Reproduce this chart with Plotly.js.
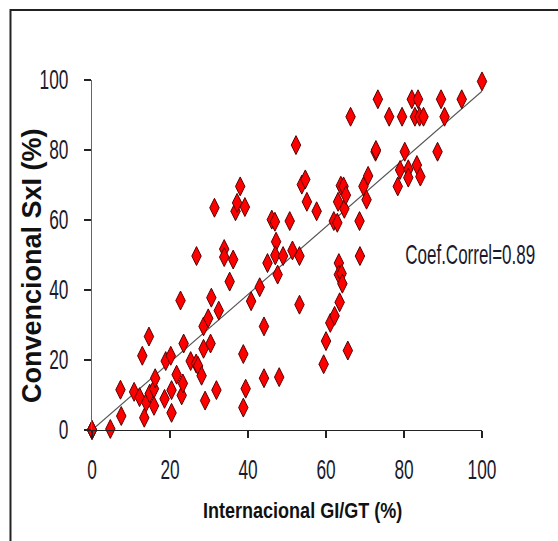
<!DOCTYPE html>
<html>
<head>
<meta charset="utf-8">
<script src="https://cdn.plot.ly/plotly-3.0.1.min.js"></script>
<style>
  html, body { margin: 0; padding: 0; background: #fff; }
  #chart { width: 558px; height: 541px; }
</style>
</head>
<body>
<div id="chart"></div>
<script>
// Internacional GI/GT (%) vs Convencional SxI (%)
const xInternacional = [
  0, 0, 4.7, 7.5, 7.3, 10.8, 12.2, 12.9, 13.4, 13.9, 14.6, 14.8, 15.9, 15.9, 16.2,
  18.6, 18.9, 20.2, 20.4, 20.4, 21.7, 22.7, 23.0, 23.3, 23.5, 25.3, 26.8, 26.7, 27.2,
  28.1, 28.6, 29.0, 28.6, 29.8, 30.4, 30.6, 31.4, 31.9, 32.5, 33.9, 33.9, 35.3, 36.2,
  36.8, 37.2, 38.0, 38.8, 38.8, 39.4, 39.2, 40.8, 43.0, 44.1, 44.1, 45.0, 46.1, 46.9,
  47.2, 47.0, 47.6, 48.0, 49.0, 50.7, 51.4, 52.3, 53.2, 53.2, 53.8, 54.7, 55.1, 57.6,
  59.4, 60.0, 61.1, 62.0, 62.2, 62.9, 63.1, 63.3, 63.3, 63.5, 63.8, 64.0, 64.2, 64.5,
  64.7, 65.1, 65.6, 66.3, 68.6, 68.7, 69.6, 70.4, 70.8, 72.7, 72.8, 73.3, 76.2, 78.4,
  79.0, 79.5, 80.2, 81.1, 81.1, 82.0, 82.8, 83.3, 83.6, 84.0, 84.2, 85.0, 88.6, 89.5,
  90.4, 94.8, 100
];
const yConvencional = [
  0, 0, 0.3, 4.0, 11.5, 10.9, 9.4, 21.2, 3.5, 7.9, 26.7, 10.4, 6.9, 11.8, 14.8,
  8.9, 19.7, 21.2, 4.9, 11.4, 15.8, 37.0, 9.9, 13.3, 24.7, 19.7, 49.7, 19.0, 18.3,
  15.5, 23.2, 8.4, 29.6, 31.9, 24.7, 37.8, 63.5, 11.4, 34.1, 51.7, 49.4, 42.4, 48.7,
  62.5, 64.9, 69.6, 6.4, 21.7, 11.8, 63.7, 36.8, 40.8, 29.6, 14.8, 47.7, 60.1, 59.5,
  53.8, 49.9, 44.4, 15.1, 49.7, 59.7, 51.3, 81.4, 49.7, 35.8, 70.1, 71.6, 65.2, 62.5,
  18.8, 25.4, 30.6, 59.7, 32.6, 59.2, 65.2, 47.7, 44.4, 36.5, 69.8, 44.7, 41.8, 69.6,
  63.2, 67.1, 22.7, 89.5, 59.7, 49.7, 69.6, 65.8, 72.6, 79.5, 80.0, 94.5, 89.5, 69.6,
  74.3, 89.5, 79.5, 74.5, 72.1, 94.5, 89.5, 75.7, 94.5, 89.5, 72.4, 89.5, 79.5, 94.5,
  89.5, 94.5, 99.6
];

// Linear trend line endpoints
const trendX = [0, 100];
const trendY = [0, 96.8];

const tickVals = [0, 20, 40, 60, 80, 100];
const tickText = ['0', '20', '40', '60', '80', '100'];

const xTitle = 'Internacional GI/GT (%)';
const yTitle = 'Convencional SxI (%)';
const correlLabel = 'Coef.Correl=0.89';

const sans = '"Liberation Sans", Arial, sans-serif';

const traces = [
  {
    x: trendX, y: trendY,
    type: 'scatter', mode: 'lines',
    line: { color: '#555555', width: 1.2 },
    hoverinfo: 'skip', showlegend: false
  },
  {
    x: xInternacional, y: yConvencional,
    type: 'scatter', mode: 'markers',
    cliponaxis: false,
    marker: {
      symbol: 'diamond-tall', size: 13.5, color: '#ff0000',
      line: { color: '#5a0000', width: 1 }
    },
    showlegend: false
  }
];

const axisCommon = {
  range: [0, 100],
  tickvals: tickVals, ticktext: tickText,
  showgrid: false, zeroline: false,
  showline: true, linewidth: 1.2,
  ticks: 'outside', ticklen: 7, tickwidth: 1.2,
  tickfont: { family: sans, size: 27, color: '#1a1a2e' },
  fixedrange: true
};

const layout = {
  width: 558, height: 541,
  margin: { l: 92, r: 76, t: 80, b: 111 },
  paper_bgcolor: '#ffffff', plot_bgcolor: '#ffffff',
  showlegend: false,
  xaxis: Object.assign({}, axisCommon, {
    linecolor: '#222222', tickcolor: '#222222', ticklabelstandoff: 8
  }),
  yaxis: Object.assign({}, axisCommon, {
    linecolor: '#666666', tickcolor: '#222222', ticklabelstandoff: 10
  }),
  annotations: [
    {
      text: xTitle, xref: 'paper', yref: 'paper', x: 0.54, y: -0.231,
      xanchor: 'center', yanchor: 'middle', showarrow: false,
      font: { family: sans, size: 22, color: '#111111', weight: 'bold' }
    },
    {
      text: yTitle, xref: 'paper', yref: 'paper', x: -0.154, y: 0.471,
      xanchor: 'center', yanchor: 'middle', showarrow: false, textangle: -90,
      font: { family: sans, size: 27, color: '#111111', weight: 'bold' }
    },
    {
      text: correlLabel, xref: 'x', yref: 'y', x: 97.0, y: 50,
      xanchor: 'center', yanchor: 'middle', showarrow: false,
      font: { family: sans, size: 27, color: '#1a1a2e' }
    }
  ],
  shapes: [
    {
      type: 'rect', xref: 'paper', yref: 'paper',
      x0: -0.209, x1: 1.4, y0: -0.5, y1: 1.2,
      line: { color: '#222222', width: 2 }, fillcolor: 'rgba(0,0,0,0)',
      layer: 'below'
    }
  ]
};

// Condense tick labels horizontally around their own anchor
function condense(node, factor) {
  const len = node.getComputedTextLength();
  if (len > 0) {
    node.setAttribute('textLength', (len * factor).toFixed(2));
    node.setAttribute('lengthAdjust', 'spacingAndGlyphs');
  }
}

// Condense a centred annotation text by scaling about its own centre
function squeeze(node, factor) {
  const cx = parseFloat(node.getAttribute('x')) || 0;
  node.setAttribute('transform',
    'translate(' + cx + ',0) scale(' + factor + ',1) translate(' + (-cx) + ',0)');
}

Plotly.newPlot('chart', traces, layout, { displayModeBar: false, staticPlot: true })
  .then(function (gd) {
    gd.querySelectorAll('.xtick text, .ytick text').forEach(function (t) { condense(t, 0.64); });
    const ann = gd.querySelectorAll('.annotation-text');
    squeeze(ann[0], 0.82);
    squeeze(ann[2], 0.63);
  });
</script>
</body>
</html>
